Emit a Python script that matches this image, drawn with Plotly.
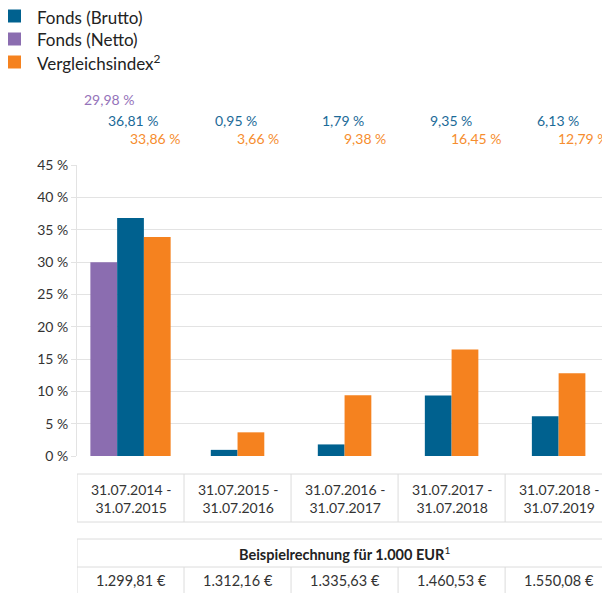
import plotly.graph_objects as go

periods = ["31.07.2014 -<br>31.07.2015", "31.07.2015 -<br>31.07.2016", "31.07.2016 -<br>31.07.2017",
           "31.07.2017 -<br>31.07.2018", "31.07.2018 -<br>31.07.2019"]
netto = [29.98, None, None, None, None]
brutto = [36.81, 0.95, 1.79, 9.35, 6.13]
vergleich = [33.86, 3.66, 9.38, 16.45, 12.79]
beispiel = ["1.299,81 €", "1.312,16 €", "1.335,63 €", "1.460,53 €", "1.550,08 €"]
y_ticks = [0, 5, 10, 15, 20, 25, 30, 35, 40, 45]
y_ticktext = [f"{v} %" for v in y_ticks]

C_BLUE = "#00618f"
C_PURPLE = "#8b6db0"
C_ORANGE = "#f5821f"
L_BLUE = "#1b6a98"
L_PURPLE = "#9573ba"
L_ORANGE = "#f68d2e"
FONT = "Lato"
GRID = "#e3e3e3"
TXT = "#333333"

# figure geometry (the page adds an 8px body margin)
W, H = 602, 585
ML, MT, MB = 69, 157, 137
PW, PH = W - ML, H - MT - MB


def px(fx):
    return (fx - ML) / PW


def py(fy):
    return (H - MB - fy) / PH


series = [("Fonds (Netto)", netto, C_PURPLE), ("Fonds (Brutto)", brutto, C_BLUE),
          ("Vergleichsindex<sup>2</sup>", vergleich, C_ORANGE)]
BW = 0.25

pos = {name: [] for name, _, _ in series}
for i in range(len(periods)):
    present = [name for name, vals, _ in series if vals[i] is not None]
    n = len(present)
    for name, vals, _ in series:
        if vals[i] is None:
            pos[name].append(None)
        else:
            k = present.index(name)
            pos[name].append(i + (k - (n - 1) / 2) * BW)

fig = go.Figure()
for name, vals, col in series:
    xs = [p for p, v in zip(pos[name], vals) if v is not None]
    ys = [v for v in vals if v is not None]
    fig.add_trace(go.Bar(x=xs, y=ys, width=BW, name=name, marker_color=col,
                         marker_line_width=0, hoverinfo="skip", showlegend=False))


def fmt(v):
    return f"{v:.2f}".replace(".", ",") + " %"


annotations = []
shapes = []

# legend (drawn manually so it can sit in the page corner)
legend_items = [("Fonds (Brutto)", C_BLUE), ("Fonds (Netto)", C_PURPLE),
                ("Vergleichsindex<sup>2</sup>", C_ORANGE)]
for k, (name, col) in enumerate(legend_items):
    cy = 8 + 23 * k
    shapes.append(dict(type="rect", xref="paper", yref="paper", x0=px(0), x1=px(13),
                       y0=py(cy + 6.5), y1=py(cy - 6.5), fillcolor=col, line=dict(width=0)))
    annotations.append(dict(x=px(27), y=py(cy + 1), xref="paper", yref="paper", text=name,
                            showarrow=False, xanchor="left", yanchor="middle",
                            font=dict(family=FONT, size=17, color="#222222")))

label_rows = [(netto, L_PURPLE, -0.45, py(92)), (brutto, L_BLUE, -0.225, py(112)),
              (vergleich, L_ORANGE, -0.02, py(130))]
for vals, col, off, yy in label_rows:
    for i, v in enumerate(vals):
        if v is None:
            continue
        annotations.append(dict(x=i + off, y=yy, xref="x", yref="paper", text=fmt(v),
                                showarrow=False, xanchor="left", yanchor="middle",
                                font=dict(family=FONT, size=14, color=col)))

# table
TB = "#dcdcdc"
y1_top, y1_bot = py(466), py(514)
y2_top, y2_mid, y2_bot = py(531), py(559), py(600)
n = len(periods)
shapes.append(dict(type="rect", xref="x", yref="paper", x0=-0.5, x1=n - 0.5, y0=y1_bot, y1=y1_top,
                   line=dict(color=TB, width=1)))
shapes.append(dict(type="rect", xref="x", yref="paper", x0=-0.5, x1=n - 0.5, y0=y2_bot, y1=y2_top,
                   line=dict(color=TB, width=1)))
shapes.append(dict(type="line", xref="x", yref="paper", x0=-0.5, x1=n - 0.5, y0=y2_mid, y1=y2_mid,
                   line=dict(color=TB, width=1)))
for i in range(n - 1):
    shapes.append(dict(type="line", xref="x", yref="paper", x0=i + 0.5, x1=i + 0.5, y0=y1_bot, y1=y1_top,
                       line=dict(color=TB, width=1)))
    shapes.append(dict(type="line", xref="x", yref="paper", x0=i + 0.5, x1=i + 0.5, y0=y2_bot, y1=y2_mid,
                       line=dict(color=TB, width=1)))
for i, p in enumerate(periods):
    annotations.append(dict(x=i, y=(y1_top + y1_bot) / 2, xref="x", yref="paper", text=p,
                            showarrow=False, xanchor="center", yanchor="middle",
                            font=dict(family=FONT, size=14, color=TXT)))
annotations.append(dict(x=(n - 1) / 2, y=(y2_top + y2_mid) / 2, xref="x", yref="paper",
                        text="<b>Beispielrechnung für 1.000 EUR</b><sup>1</sup>", showarrow=False,
                        xanchor="center", yanchor="middle",
                        font=dict(family=FONT, size=14.5, color="#222222")))
for i, t in enumerate(beispiel):
    annotations.append(dict(x=i, y=py(572), xref="x", yref="paper", text=t,
                            showarrow=False, xanchor="center", yanchor="middle",
                            font=dict(family=FONT, size=14.5, color=TXT)))

fig.update_layout(
    width=W, height=H,
    margin=dict(l=ML, r=0, t=MT, b=MB, autoexpand=False),
    plot_bgcolor="white", paper_bgcolor="white",
    barmode="overlay",
    showlegend=False,
    xaxis=dict(range=[-0.5, n - 0.52], showticklabels=False, showgrid=False, zeroline=False,
               showline=False, ticks=""),
    yaxis=dict(range=[0, 45], tickmode="array", tickvals=y_ticks, ticktext=y_ticktext,
               showgrid=True, gridcolor=GRID,
               zeroline=False, showline=True, linecolor=GRID, ticks="outside", ticklen=5,
               tickcolor=GRID, tickfont=dict(family=FONT, size=14, color=TXT)),
    annotations=annotations, shapes=shapes,
)
fig.write_html("out.html")
